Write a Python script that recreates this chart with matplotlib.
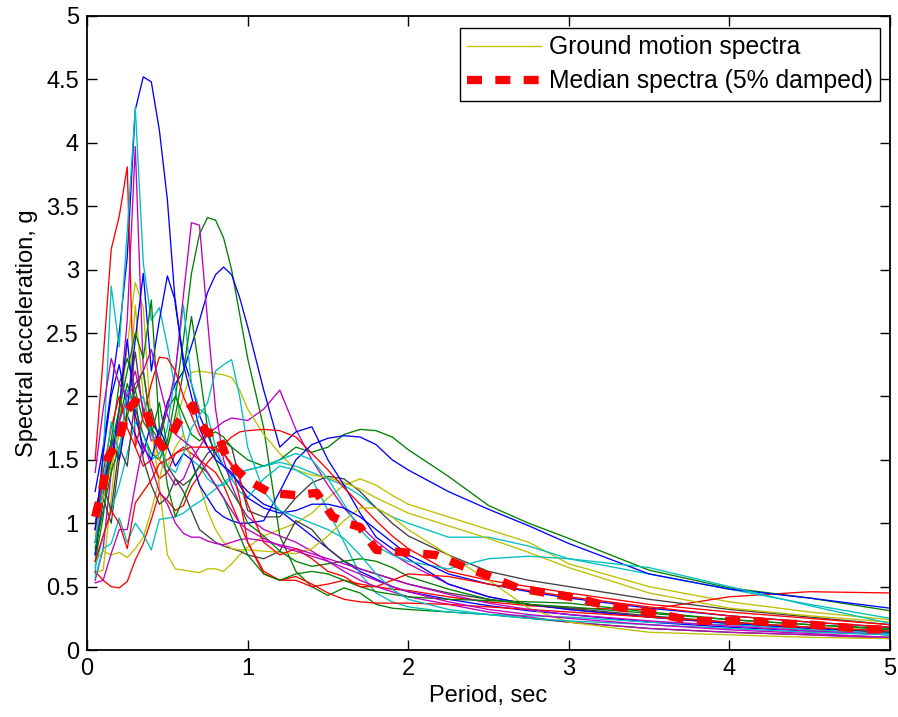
import matplotlib
matplotlib.use("Agg")
import matplotlib.pyplot as plt
import numpy as np

plt.rcParams["font.family"] = ["Liberation Sans", "DejaVu Sans"]

# periods (sec) shared by all spectra
period = [0.05, 0.1, 0.15, 0.2, 0.25, 0.3, 0.35, 0.4, 0.45, 0.5,
          0.55, 0.6, 0.65, 0.7, 0.75, 0.8, 0.85, 0.9, 0.95, 1.0,
          1.1, 1.2, 1.3, 1.4, 1.5, 1.6, 1.7, 1.8, 1.9, 2.0,
          2.25, 2.5, 2.75, 3.0, 3.5, 4.0, 4.5, 5.0]

# individual ground motion spectra, Sa in g
blue_1 = [1.25, 1.6, 2.05, 2.5, 3.1, 4.26, 4.52, 4.48, 4.1, 3.55,
          2.72, 2.3, 2.1, 1.85, 1.7, 1.55, 1.45, 1.38, 1.32, 1.25,
          1.15, 1.1, 1.0, 0.9, 0.8, 0.7, 0.62, 0.56, 0.5, 0.46,
          0.4, 0.35, 0.31, 0.28, 0.22, 0.18, 0.15, 0.12]
blue_2 = [0.75, 1.2, 1.65, 1.5, 1.85, 1.7, 1.55, 1.8, 1.7, 1.95,
          2.1, 2.2, 2.4, 2.6, 2.82, 2.96, 3.02, 2.96, 2.78, 2.55,
          2.05, 1.6, 1.72, 1.76, 1.5, 1.3, 1.08, 0.89, 0.8, 0.72,
          0.52, 0.42, 0.36, 0.32, 0.26, 0.21, 0.17, 0.14]
blue_3 = [1.1, 1.35, 1.5, 1.9, 2.45, 1.85, 1.6, 1.5, 1.75, 1.6,
          1.45, 1.55, 1.5, 1.3, 1.2, 1.1, 1.05, 1.02, 1.0, 1.0,
          1.02, 1.25, 1.5, 1.62, 1.67, 1.69, 1.68, 1.62, 1.5, 1.42,
          1.25, 1.11, 0.98, 0.84, 0.6, 0.48, 0.41, 0.33]
blue_4 = [0.95, 1.55, 2.0, 2.25, 1.9, 2.45, 2.97, 2.2, 2.6, 2.95,
          2.75, 2.25, 2.0, 1.75, 1.6, 1.5, 1.45, 1.4, 1.3, 1.2,
          1.12, 1.08, 1.1, 1.15, 1.15, 1.12, 1.05, 0.95, 0.85, 0.75,
          0.6, 0.52, 0.46, 0.41, 0.33, 0.27, 0.22, 0.18]
green_1 = [0.85, 1.2, 1.5, 1.8, 2.1, 1.9, 1.7, 1.55, 1.5, 1.65,
           2.0, 2.45, 2.97, 3.28, 3.41, 3.39, 3.25, 3.0, 2.65, 2.3,
           1.75, 0.9, 0.62, 0.5, 0.43, 0.49, 0.45, 0.36, 0.33, 0.32,
           0.3, 0.28, 0.25, 0.22, 0.17, 0.14, 0.12, 0.1]
green_2 = [1.0, 1.3, 1.65, 2.1, 2.3, 2.05, 2.2, 1.75, 1.65, 1.9,
           2.0, 1.85, 1.7, 1.65, 1.7, 1.72, 1.68, 1.6, 1.55, 1.5,
           1.45, 1.5, 1.6, 1.56, 1.6, 1.7, 1.74, 1.73, 1.68, 1.58,
           1.37, 1.14, 1.0, 0.88, 0.63, 0.49, 0.41, 0.31]
green_3 = [0.8, 1.1, 1.4, 1.6, 1.85, 2.05, 1.8, 1.7, 1.95, 1.6,
           1.85, 2.2, 2.63, 2.2, 1.75, 1.5, 1.35, 1.25, 1.15, 1.0,
           0.9, 0.78, 0.7, 0.66, 0.68, 0.7, 0.72, 0.7, 0.65, 0.58,
           0.48, 0.4, 0.36, 0.34, 0.29, 0.24, 0.2, 0.17]
green_4 = [0.7, 1.05, 1.6, 1.9, 2.2, 2.5, 2.3, 2.76, 1.75, 1.3,
           1.05, 1.2, 1.35, 1.45, 1.4, 1.3, 1.2, 1.05, 0.9, 0.75,
           0.6, 0.55, 0.6, 0.62, 0.6, 0.55, 0.5, 0.46, 0.44, 0.42,
           0.4, 0.39, 0.38, 0.37, 0.3, 0.24, 0.2, 0.16]
red_1 = [1.5, 2.3, 3.16, 3.42, 3.81, 1.6, 1.45, 1.5, 1.35, 1.4,
         1.55, 1.6, 1.55, 1.5, 1.45, 1.4, 1.3, 1.15, 1.0, 0.85,
         0.62, 0.55, 0.55, 0.5, 0.52, 0.55, 0.52, 0.5, 0.48, 0.47,
         0.42, 0.38, 0.35, 0.33, 0.32, 0.42, 0.46, 0.45]
red_2 = [0.62, 0.55, 0.5, 0.49, 0.54, 0.71, 0.84, 1.03, 1.24, 1.18,
         1.1, 1.14, 1.29, 1.38, 1.48, 1.55, 1.62, 1.68, 1.72, 1.73,
         1.74, 1.73, 1.68, 1.55, 1.42, 1.28, 1.15, 1.02, 0.9, 0.8,
         0.62, 0.55, 0.5, 0.45, 0.36, 0.3, 0.25, 0.2]
red_3 = [0.95, 1.4, 1.75, 2.0, 1.75, 1.6, 1.85, 2.1, 2.31, 2.3,
         2.2, 2.0, 1.85, 1.7, 1.6, 1.6, 1.55, 1.45, 1.2, 0.85,
         0.6, 0.55, 0.58, 0.52, 0.45, 0.4, 0.38, 0.37, 0.37, 0.37,
         0.36, 0.34, 0.32, 0.3, 0.26, 0.22, 0.18, 0.15]
red_4 = [0.7, 0.9, 1.1, 1.0, 0.8, 1.16, 1.25, 1.34, 1.47, 1.5,
         1.55, 1.58, 1.6, 1.6, 1.6, 1.58, 1.55, 1.47, 1.35, 1.15,
         0.85, 0.75, 0.8, 0.72, 0.62, 0.58, 0.5, 0.5, 0.55, 0.6,
         0.58, 0.52, 0.47, 0.42, 0.34, 0.27, 0.22, 0.18]
cyan_1 = [0.6, 1.5, 2.87, 2.39, 3.3, 4.28, 3.05, 2.6, 2.7, 2.4,
          2.05, 1.7, 1.5, 1.45, 1.35, 1.3, 1.3, 1.35, 1.4, 1.42,
          1.45, 1.48, 1.45, 1.4, 1.35, 1.3, 1.22, 1.12, 1.05, 1.0,
          0.89, 0.89, 0.82, 0.72, 0.6, 0.48, 0.36, 0.25]
cyan_2 = [0.65, 0.9, 1.1, 1.3, 1.55, 1.8, 1.7, 1.5, 1.55, 1.75,
          2.2, 2.72, 2.1, 1.9, 1.85, 1.6, 1.45, 1.35, 1.25, 1.2,
          1.35, 1.45, 1.42, 1.35, 1.1, 0.85, 0.6, 0.45, 0.38, 0.34,
          0.3, 0.28, 0.27, 0.26, 0.22, 0.2, 0.16, 0.13]
cyan_3 = [0.57, 0.8, 0.84, 1.04, 0.85, 1.0, 0.91, 0.79, 1.03, 1.04,
          1.05, 1.08, 1.13, 1.17, 1.22, 1.27, 1.32, 1.37, 1.4, 1.42,
          1.45, 1.5, 1.55, 1.5, 1.35, 1.15, 0.95, 0.82, 0.75, 0.7,
          0.64, 0.72, 0.74, 0.72, 0.65, 0.5, 0.35, 0.21]
cyan_4 = [0.85, 1.3, 1.8, 1.55, 2.05, 1.9, 2.0, 1.7, 1.6, 1.45,
          1.4, 1.55, 1.75, 1.85, 1.95, 2.2, 2.25, 2.29, 2.0, 1.6,
          1.25, 1.1, 1.05, 1.0, 0.95, 0.88, 0.75, 0.6, 0.48, 0.4,
          0.32, 0.28, 0.25, 0.23, 0.2, 0.17, 0.14, 0.12]
magenta_1 = [0.55, 0.8, 1.4, 1.9, 2.6, 3.97, 2.2, 1.75, 1.5, 1.4,
             1.3, 1.35, 1.5, 1.6, 1.7, 1.75, 1.8, 1.83, 1.82, 1.81,
             1.9, 2.05, 1.74, 1.5, 1.3, 1.12, 0.98, 0.86, 0.76, 0.68,
             0.52, 0.42, 0.36, 0.32, 0.26, 0.21, 0.17, 0.14]
magenta_2 = [0.85, 1.2, 1.6, 1.8, 2.0, 2.2, 1.9, 1.65, 1.7, 1.9,
             2.2, 2.8, 3.37, 3.35, 2.6, 1.9, 1.5, 1.3, 1.15, 1.05,
             0.95, 0.9, 0.85, 0.78, 0.7, 0.62, 0.55, 0.5, 0.46, 0.42,
             0.36, 0.3, 0.26, 0.22, 0.17, 0.14, 0.12, 0.09]
magenta_3 = [0.53, 0.55, 0.76, 0.95, 0.95, 1.3, 1.63, 1.45, 1.25, 1.15,
             1.0, 0.92, 0.89, 0.89, 0.86, 0.84, 0.83, 0.85, 0.87, 0.88,
             0.86, 0.83, 0.8, 0.76, 0.72, 0.68, 0.64, 0.6, 0.56, 0.52,
             0.44, 0.37, 0.32, 0.28, 0.23, 0.19, 0.15, 0.12]
magenta_4 = [1.4, 1.9, 2.3, 2.1, 2.0, 2.1, 2.2, 2.37, 2.1, 1.85,
             1.7, 1.65, 1.6, 1.5, 1.4, 1.3, 1.2, 1.1, 1.0, 0.95,
             0.88, 0.82, 0.78, 0.74, 0.7, 0.65, 0.6, 0.55, 0.5, 0.46,
             0.38, 0.32, 0.28, 0.25, 0.2, 0.16, 0.13, 0.1]
yellow_1 = [0.61, 0.63, 1.2, 1.8, 2.4, 2.9, 2.7, 1.75, 1.3, 0.75,
            0.64, 0.63, 0.62, 0.61, 0.64, 0.64, 0.62, 0.68, 0.75, 0.81,
            0.9, 0.95, 1.0, 1.08, 1.2, 1.3, 1.35, 1.3, 1.22, 1.15,
            1.05, 0.95, 0.85, 0.68, 0.5, 0.38, 0.3, 0.24]
yellow_2 = [0.7, 0.78, 0.75, 0.77, 0.73, 0.8, 0.89, 1.1, 1.35, 1.6,
            1.8, 2.0, 2.19, 2.2, 2.19, 2.18, 2.17, 2.15, 2.05, 1.9,
            1.7, 1.55, 1.42, 1.38, 1.36, 1.32, 1.27, 1.2, 1.14, 1.08,
            0.98, 0.88, 0.77, 0.65, 0.45, 0.33, 0.27, 0.22]
yellow_3 = [0.9, 1.2, 1.45, 1.7, 1.8, 2.72, 2.0, 1.7, 1.5, 1.45,
            1.6, 1.7, 1.5, 1.3, 1.1, 0.95, 0.85, 0.8, 0.79, 0.79,
            0.78, 0.77, 0.76, 0.8, 0.9, 1.02, 1.12, 1.12, 1.05, 0.95,
            0.75, 0.55, 0.33, 0.22, 0.14, 0.12, 0.1, 0.09]
black_1 = [0.75, 1.2, 1.0, 1.5, 1.9, 2.35, 1.85, 1.9, 1.65, 1.45,
           1.35, 1.3, 1.35, 1.45, 1.55, 1.6, 1.65, 1.6, 1.35, 1.1,
           1.05, 1.05, 1.2, 1.32, 1.37, 1.35, 1.25, 1.12, 1.0, 0.9,
           0.75, 0.62, 0.55, 0.5, 0.4, 0.32, 0.26, 0.2]
black_2 = [0.95, 1.3, 1.1, 1.6, 1.45, 2.0, 1.5, 1.3, 1.15, 1.2,
           1.35, 1.25, 1.1, 0.95, 0.9, 0.85, 0.82, 0.8, 0.78, 0.75,
           0.72, 0.78, 1.02, 0.95, 0.8, 0.7, 0.64, 0.6, 0.56, 0.52,
           0.45, 0.4, 0.36, 0.33, 0.27, 0.22, 0.18, 0.14]

# median spectrum (5% damped)
median_T = [0.05, 0.1, 0.13, 0.2, 0.25, 0.3, 0.36, 0.41, 0.47, 0.52,
            0.57, 0.62, 0.66, 0.7, 0.75, 0.81, 0.87, 0.93, 1.0, 1.14,
            1.31, 1.43, 1.53, 1.62, 1.7, 1.8, 1.98, 2.17, 2.34, 2.51,
            2.68, 2.86, 3.05, 3.22, 3.41, 3.58, 3.77, 3.96, 4.14, 4.33,
            4.51, 4.7, 4.87, 5.0]
median_sa = [1.05, 1.3, 1.52, 1.66, 1.89, 1.96, 1.93, 1.71, 1.6, 1.68,
             1.8, 1.88, 1.93, 1.8, 1.71, 1.72, 1.51, 1.42, 1.34, 1.24,
             1.22, 1.24, 1.05, 1.0, 0.97, 0.79, 0.77, 0.75, 0.66, 0.58,
             0.49, 0.45, 0.41, 0.355, 0.32, 0.28, 0.23, 0.23, 0.23, 0.21,
             0.2, 0.18, 0.165, 0.16]

spectra = [
    (yellow_1, (0.75, 0.75, 0)),
    (blue_1, (0, 0, 1)), (green_1, (0, 0.5, 0)), (red_1, (1, 0, 0)),
    (cyan_1, (0, 0.75, 0.75)), (magenta_1, (0.75, 0, 0.75)),
    (black_1, (0.25, 0.25, 0.25)), (yellow_2, (0.75, 0.75, 0)),
    (blue_2, (0, 0, 1)), (green_2, (0, 0.5, 0)), (red_2, (1, 0, 0)),
    (cyan_2, (0, 0.75, 0.75)), (magenta_2, (0.75, 0, 0.75)),
    (black_2, (0.25, 0.25, 0.25)), (yellow_3, (0.75, 0.75, 0)),
    (blue_3, (0, 0, 1)), (green_3, (0, 0.5, 0)), (red_3, (1, 0, 0)),
    (cyan_3, (0, 0.75, 0.75)), (magenta_3, (0.75, 0, 0.75)),
    (blue_4, (0, 0, 1)), (green_4, (0, 0.5, 0)), (red_4, (1, 0, 0)),
    (cyan_4, (0, 0.75, 0.75)), (magenta_4, (0.75, 0, 0.75)),
]

fig = plt.figure(figsize=(8.98, 7.17), dpi=100)
ax = fig.add_axes([0.097, 0.0934, 0.894, 0.8843])

for i, (sa, col) in enumerate(spectra):
    ax.plot(period, sa, color=col, lw=0.95,
            label="Ground motion spectra" if i == 0 else None)

ax.plot(median_T, median_sa, color="red", lw=6,
        linestyle=(0, (1.8, 1.6)), dash_capstyle="butt",
        label="Median spectra (5% damped)")

ax.set_xlim(0, 5)
ax.set_ylim(0, 5)
ax.set_xticks(np.arange(0, 5.01, 1))
ax.set_yticks(np.arange(0, 5.01, 0.5))
ax.set_yticklabels(["0", "0.5", "1", "1.5", "2", "2.5", "3", "3.5", "4", "4.5", "5"])
ax.tick_params(direction="in", length=7, width=1, top=True, right=True,
               labelsize=17, pad=6)
for s in ax.spines.values():
    s.set_linewidth(1.3)
ax.set_xlabel("Period, sec", fontsize=17, labelpad=3)
ax.set_ylabel("Spectral acceleration, g", fontsize=17, labelpad=6)

leg = ax.legend(loc="upper right", bbox_to_anchor=(0.9875, 0.981),
                borderaxespad=0, fontsize=17.8, fancybox=False,
                edgecolor="black", framealpha=1, handlelength=3,
                handletextpad=0.3, labelspacing=0.4, borderpad=0.3)
leg.get_frame().set_linewidth(1.0)

fig.savefig("out.png", dpi=100)
